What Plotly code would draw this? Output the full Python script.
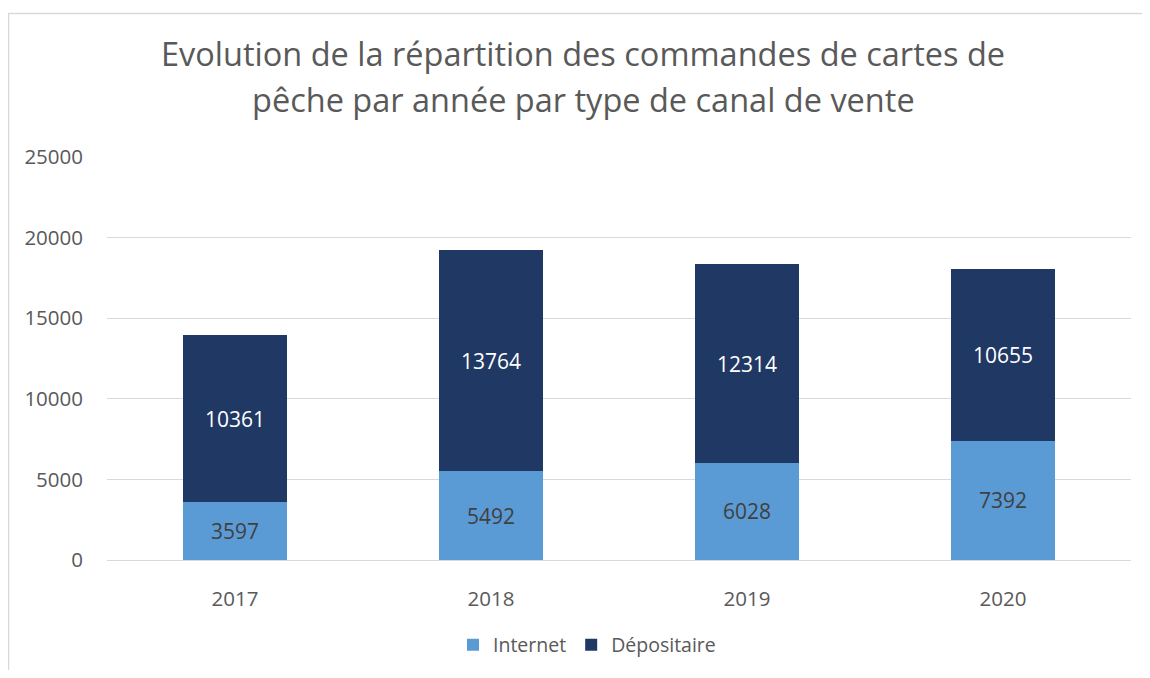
import plotly.graph_objects as go

years = ["2017", "2018", "2019", "2020"]
internet = [3597, 5492, 6028, 7392]
depositaire = [10361, 13764, 12314, 10655]
title_lines = ["Evolution de la répartition des commandes de cartes de",
               "pêche par année par type de canal de vente"]
y_ticks = [0, 5000, 10000, 15000, 20000, 25000]
y_tick_text = ["0", "5000", "10000", "15000", "20000", "25000"]

FONT = "Open Sans"
GRAY = "#595959"

fig = go.Figure()
fig.add_trace(go.Bar(
    name="Internet", x=years, y=internet, marker_color="#5B9BD5",
    text=internet, textposition="inside", insidetextanchor="middle",
    textfont=dict(family=FONT, size=21, color="#404040"),
    marker_line_width=0,
))
fig.add_trace(go.Bar(
    name="Dépositaire", x=years, y=depositaire, marker_color="#203864",
    text=depositaire, textposition="inside", insidetextanchor="middle",
    textfont=dict(family=FONT, size=21, color="#FFFFFF"),
    marker_line_width=0,
))

# page body has an 8px margin, so the figure is shrunk and shifted accordingly
W, H = 1134, 662
L, R, T, B = 99, 11, 149, 110
PW, PH = W - L - R, H - T - B
fig.update_layout(
    barmode="stack", bargap=0.594,
    width=W, height=H,
    margin=dict(l=L, r=R, t=T, b=B),
    paper_bgcolor="white", plot_bgcolor="white",
    font=dict(family=FONT, color=GRAY, size=19),
    showlegend=True,
    legend=dict(orientation="h", xref="container", yref="container",
                x=(587 - 8) / W, xanchor="center", y=1 - (645 - 8) / H, yanchor="middle",
                font=dict(family=FONT, size=19.5, color=GRAY), traceorder="normal"),
)
fig.update_yaxes(range=[0, 25000], tickvals=y_ticks, ticktext=y_tick_text,
                 showgrid=True, gridcolor="#D9D9D9",
                 gridwidth=1, zeroline=True, zerolinecolor="#D9D9D9", zerolinewidth=1,
                 showline=False, ticks="", ticklabelstandoff=23,
                 tickfont=dict(family=FONT, size=20.5, color=GRAY))
fig.update_xaxes(showline=False, ticks="", ticklabelstandoff=24,
                 tickfont=dict(family=FONT, size=20.5, color=GRAY))

# page coords -> paper coords
def px(xp):
    return (xp - 8 - L) / PW

def py(yp):
    return (T + PH - (yp - 8)) / PH

for line, ypx in zip(title_lines, [54, 99]):
    fig.add_annotation(text=line, xref="paper", yref="paper",
                       x=px(583), y=py(ypx),
                       xanchor="center", yanchor="middle", showarrow=False,
                       font=dict(family=FONT, size=32.5, color=GRAY))

fig.add_shape(type="rect", xref="paper", yref="paper",
              x0=px(8.5), x1=1.2, y0=-0.5, y1=py(13.5),
              line=dict(color="#D9D9D9", width=1.5), fillcolor="rgba(0,0,0,0)", layer="below")

fig.write_html("out.html")
